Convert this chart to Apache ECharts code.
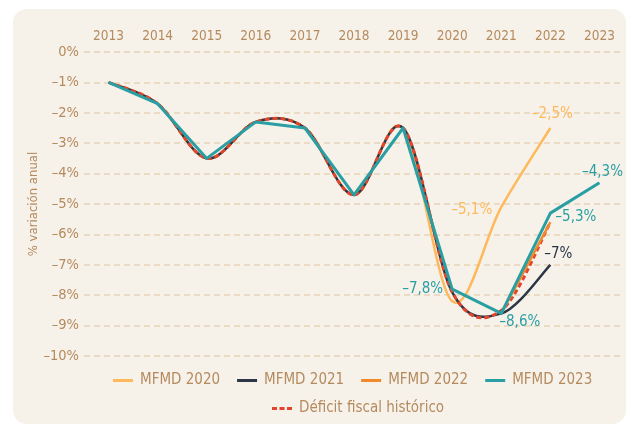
<!DOCTYPE html>
<html><head><meta charset="utf-8">
<script src="https://cdn.jsdelivr.net/npm/echarts@6/dist/echarts.min.js"></script>
<style>html,body{margin:0;padding:0;background:#ffffff}#c{width:632px;height:425px}</style>
</head><body><div id="c"></div>
<script>
const years = ['2013','2014','2015','2016','2017','2018','2019','2020','2021','2022','2023'];
const yMin = -10, yMax = 0, yStep = 1;
const mfmd2020 = [-1.0,-1.7,-3.5,-2.3,-2.5,-4.7,-2.5,-8.2,-5.1,-2.5,null];
const mfmd2021 = [-1.0,-1.7,-3.5,-2.3,-2.5,-4.7,-2.5,-7.9,-8.6,-7.0,null];
const mfmd2022 = [null,null,null,null,null,null,null,null,-8.6,-5.6,null];
const mfmd2023 = [-1.0,-1.7,-3.5,-2.3,-2.5,-4.7,-2.5,-7.8,-8.6,-5.3,-4.3];
const historico = [-1.0,-1.7,-3.5,-2.3,-2.5,-4.7,-2.5,-7.9,-8.5,-5.6,null];
const seriesNames = ['MFMD 2020','MFMD 2021','MFMD 2022','MFMD 2023','Déficit fiscal histórico'];

const FONT = "'Liberation Sans Narrow','DejaVu Sans Condensed','Roboto',sans-serif";
const TAN = '#b58a5e';
const C = {y:'#fdb95c', k:'#2c3646', o:'#f08a2a', t:'#2a9fa3', r:'#e2452b'};
const LABEL_SIZE = 15;

function fmt(v){
  const a = Math.abs(v);
  const s = Number.isInteger(a) ? String(a) : a.toFixed(1).replace('.', ',');
  return (v < 0 ? '\u2013' : '') + s + '%';
}
// label placement (pixel nudges relative to the data point)
const labelSpec = {
  'MFMD 2020': {8:{dx:-9, dy:3, align:'right'}, 9:{dx:2, dy:-14, align:'center'}},
  'MFMD 2021': {9:{dx:8, dy:-11, align:'center'}},
  'MFMD 2023': {7:{dx:-9, dy:0, align:'right'}, 8:{dx:-2, dy:9, align:'left'},
                9:{dx:5, dy:4, align:'left'}, 10:{dx:3, dy:-11, align:'center'}}
};

// Line drawn through the axis scales; smooth = Bezier with Excel-like 1/6 tangents
function lineThrough(name, arr, color, width, smooth, dash){
  const spec = labelSpec[name] || {};
  return {
    name:name, type:'custom', coordinateSystem:'cartesian2d', color:color,
    itemStyle:{color:color},
    data:arr.map((v,i)=>[i, v === null ? '-' : v]),
    encode:{x:0, y:1},
    silent:true, animation:false,
    renderItem:function(params, api){
      const idx = params.dataIndex;
      const children = [];
      if (idx === 0) {
        const P = k => api.coord([k, arr[k]]);
        let d = '';
        for (let i = 0; i < arr.length - 1; i++) {
          if (arr[i] === null || arr[i+1] === null) continue;
          const p1 = P(i), p2 = P(i+1);
          if (i === 0 || arr[i-1] === null) d += 'M' + p1[0] + ',' + p1[1];
          if (smooth) {
            const p0 = (i > 0 && arr[i-1] !== null) ? P(i-1) : p1;
            const p3 = (i+2 < arr.length && arr[i+2] !== null) ? P(i+2) : p2;
            const c1 = [p1[0] + (p2[0]-p0[0])/6, p1[1] + (p2[1]-p0[1])/6];
            const c2 = [p2[0] - (p3[0]-p1[0])/6, p2[1] - (p3[1]-p1[1])/6];
            d += 'C' + c1[0] + ',' + c1[1] + ',' + c2[0] + ',' + c2[1] + ',' + p2[0] + ',' + p2[1];
          } else {
            d += 'L' + p2[0] + ',' + p2[1];
          }
        }
        children.push({type:'path', shape:{pathData:d},
          style:{stroke:color, lineWidth:width, fill:'none', lineDash:dash || null, lineCap:'butt', lineJoin:'round'}});
      }
      const ls = spec[idx];
      if (ls && arr[idx] !== null) {
        const p = api.coord([idx, arr[idx]]);
        children.push({type:'text', x:p[0] + ls.dx, y:p[1] + ls.dy,
          style:{text:fmt(arr[idx]), fill:color, fontSize:LABEL_SIZE, fontFamily:FONT,
                 align:ls.align, verticalAlign:'middle'}});
      }
      return children.length ? {type:'group', children:children} : null;
    }
  };
}

const LINE_ICON = 'path://M0,0H20V3H0Z';
const DASH_ICON = 'path://M0,0H5V3H0Z M7.5,0H12.5V3H7.5Z M15,0H20V3H15Z';

const chart = echarts.init(document.getElementById('c'), null, {renderer:'canvas'});
chart.setOption({
  animation:false,
  backgroundColor:'#ffffff',
  graphic:{elements:[{type:'rect', z:-100, silent:true,
    shape:{x:13, y:9, width:613, height:415, r:14}, style:{fill:'#f6f2ea'}}]},
  textStyle:{fontFamily:FONT},
  grid:{left:84, right:8, top:52, bottom:69},
  xAxis:{type:'category', data:years, position:'top', boundaryGap:true,
    axisLine:{show:false}, axisTick:{show:false},
    axisLabel:{color:TAN, fontSize:13.5, margin:9, fontFamily:FONT}},
  yAxis:{type:'value', min:yMin, max:yMax, interval:yStep,
    name:'% variación anual', nameLocation:'middle', nameGap:44, nameMoveOverlap:false,
    nameTextStyle:{color:TAN, fontSize:13, fontFamily:FONT},
    axisLine:{show:false}, axisTick:{show:false},
    axisLabel:{color:TAN, fontSize:14.5, margin:5, fontFamily:FONT, formatter:v=>fmt(v)},
    splitLine:{lineStyle:{color:'#e8d2b8', width:1.5, type:[6,4]}}},
  legend:[
    {data:[
      {name:'MFMD 2020', icon:LINE_ICON, itemStyle:{color:C.y}},
      {name:'MFMD 2021', icon:LINE_ICON, itemStyle:{color:C.k}},
      {name:'MFMD 2022', icon:LINE_ICON, itemStyle:{color:C.o}},
      {name:'MFMD 2023', icon:LINE_ICON, itemStyle:{color:C.t}}],
     left:113, top:373, width:520, padding:0, itemWidth:20, itemHeight:3, itemGap:17, selectedMode:false,
     textStyle:{color:TAN, fontSize:15, fontFamily:FONT, padding:[0,0,0,2]}},
    {data:[{name:seriesNames[4], icon:DASH_ICON, itemStyle:{color:C.r}}],
     left:272, top:401, padding:0, itemWidth:20, itemHeight:3, selectedMode:false,
     textStyle:{color:TAN, fontSize:15, fontFamily:FONT, padding:[0,0,0,2]}}
  ],
  series:[
    lineThrough('MFMD 2020', mfmd2020, C.y, 2.5, true),
    lineThrough('MFMD 2021', mfmd2021, C.k, 2.5, true),
    lineThrough('Déficit fiscal histórico', historico, C.r, 3, true, [5,3]),
    lineThrough('MFMD 2022', mfmd2022, C.o, 2.5, true),
    lineThrough('MFMD 2023', mfmd2023, C.t, 3, false)
  ]
});
</script></body></html>
